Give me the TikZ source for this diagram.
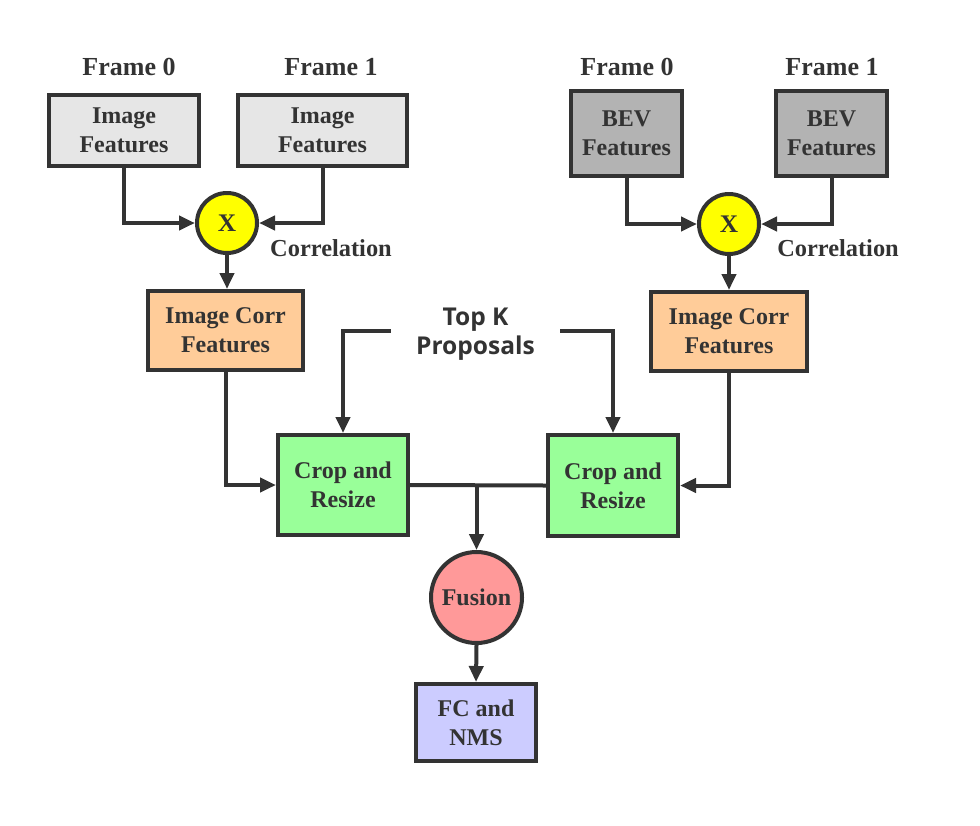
\documentclass[tikz,border=0pt]{standalone}
\usepackage{fontspec}
\setmainfont{Liberation Serif}
\newfontfamily\tkfont{Open Sans}
\usetikzlibrary{arrows.meta}
\definecolor{ink}{HTML}{333333}
\definecolor{lgray}{HTML}{E6E6E6}
\definecolor{dgray}{HTML}{B3B3B3}
\definecolor{orng}{HTML}{FFCC99}
\definecolor{grn}{HTML}{99FF99}
\definecolor{pnk}{HTML}{FF9999}
\definecolor{lil}{HTML}{CCCCFF}
\definecolor{yel}{HTML}{FFFF00}
\tikzset{
  base/.style={draw=ink, line width=3pt, text=ink, font=\fontsize{18}{22}\selectfont\bfseries, align=center, inner sep=0pt},
  box/.style 2 args={base, rectangle, minimum width=#1*0.75pt, minimum height=#2*0.75pt},
  circ/.style={base, circle, minimum size=#1*0.75pt},
  lbl/.style={text=ink, font=\fontsize{18.3}{22}\selectfont\bfseries, align=center, inner sep=0pt},
  frm/.style={lbl, font=\fontsize{19.5}{22}\selectfont\bfseries},
  wire/.style={draw=ink, line width=3pt},
  arr/.style={wire, -{Triangle[length=12pt,width=10.5pt]}},
}
\begin{document}
\begin{tikzpicture}[x=0.75pt,y=-0.75pt]
\useasboundingbox (0,0) rectangle (980,825);
% labels
\node[frm] (f0L) at (129,67) {Frame 0};
\node[frm] (f1L) at (331,67) {Frame 1};
\node[frm] (f0R) at (627,67) {Frame 0};
\node[frm] (f1R) at (832,67) {Frame 1};
% left branch
\node[box={150}{71}, fill=lgray] (imgL) at (124,130.5) {Image\\Features};
\node[box={169}{71}, fill=lgray] (imgR) at (322.5,130.5) {Image\\Features};
\node[circ=60, fill=yel, font=\fontsize{19}{22}\selectfont\bfseries] (xL) at (227,223) {X};
\node[lbl] (corlabL) at (331,248) {Correlation};
\node[box={155}{79}, fill=orng] (corrL) at (225.5,330.5) {Image Corr\\Features};
% right branch
\node[box={111}{85}, fill=dgray] (bevL) at (626.5,133.5) {BEV\\Features};
\node[box={111}{85}, fill=dgray] (bevR) at (831.5,133.5) {BEV\\Features};
\node[circ=60, fill=yel, font=\fontsize{19}{22}\selectfont\bfseries] (xR) at (729,224) {X};
\node[lbl] (corlabR) at (838,248) {Correlation};
\node[box={156}{79}, fill=orng] (corrR) at (729,331.5) {Image Corr\\Features};
% top k
\node[lbl, font=\tkfont\fontsize{18.4}{22}\selectfont\bfseries, minimum width=169*0.75pt] (topk) at (475.5,334) {Top K\\Proposals};
% crop
\node[box={130}{100}, fill=grn] (cropL) at (343,485) {Crop and\\Resize};
\node[box={130}{101}, fill=grn] (cropR) at (613,485.5) {Crop and\\Resize};
% fusion
\node[circ=91, fill=pnk] (fus) at (476.5,597.5) {Fusion};
\node[box={120}{77}, fill=lil] (fc) at (476,722.5) {FC and\\NMS};
% connectors
\draw[arr] (imgL.south) |- (xL.west);
\draw[arr] (imgR.south) |- (xL.east);
\draw[arr] (xL.south) -- (xL.south |- corrL.north);
\draw[arr] (corrL.south) |- (cropL.west);
\draw[arr] (bevL.south) |- (xR.west);
\draw[arr] (bevR.south) |- (xR.east);
\draw[arr] (xR.south) -- (xR.south |- corrR.north);
\draw[arr] (corrR.south) |- (cropR.east);
\draw[arr] ([yshift=2.25pt]topk.west) -| (cropL.north);
\draw[arr] ([yshift=2.25pt]topk.east) -| (cropR.north);
\draw[wire] (cropL.east) -- (cropR.west);
\coordinate (jn) at (cropL.east -| fus.north);
\draw[arr] (jn) -- (fus.north);
\draw[arr] (fus.south) -- (fc.north);
\end{tikzpicture}
\end{document}
